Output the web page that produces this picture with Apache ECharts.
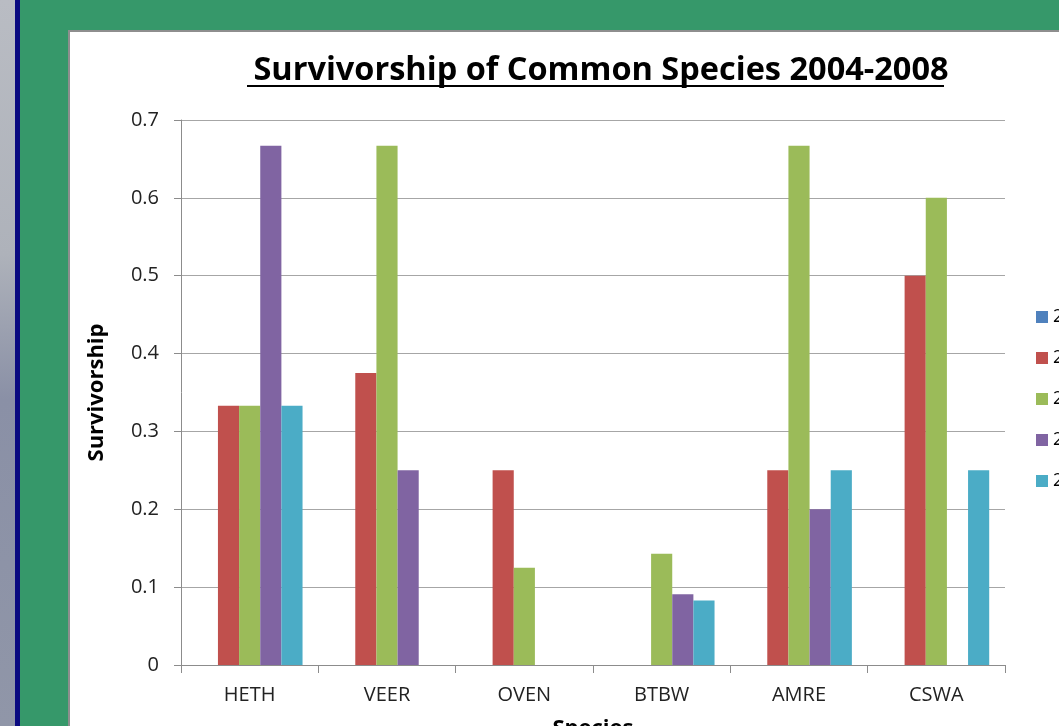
<!DOCTYPE html>
<html>
<head>
<meta charset="utf-8">
<script src="https://cdn.jsdelivr.net/npm/echarts@6/dist/echarts.min.js"></script>
<style>
html,body{margin:0;padding:0;width:1059px;height:726px;overflow:hidden;}
body{background:#36986a;position:relative;}
#strip{position:absolute;left:0;top:0;width:15px;height:726px;background:linear-gradient(#b9bcc3 0%,#aeb2ba 35%,#8a90a6 55%,#9096a8 100%);}
#navy{position:absolute;left:15px;top:0;width:5px;height:726px;background:#0a0a80;}
#paper{position:absolute;left:68px;top:30px;width:991px;height:696px;background:#fff;border-left:2px solid #8e8e8e;border-top:2px solid #8e8e8e;box-sizing:border-box;}
#chart{position:absolute;left:0;top:0;width:1059px;height:726px;}
</style>
</head>
<body>
<div id="strip"></div><div id="navy"></div><div id="paper"></div>
<div id="chart"></div>
<script>
const categories = ['HETH', 'VEER', 'OVEN', 'BTBW', 'AMRE', 'CSWA'];
const seriesNames = ['2004', '2005', '2006', '2007', '2008'];
const s2004 = [0, 0, 0, 0, 0, 0];
const s2005 = [0.333, 0.375, 0.25, 0, 0.25, 0.5];
const s2006 = [0.333, 0.667, 0.125, 0.143, 0.667, 0.6];
const s2007 = [0.667, 0.25, 0, 0.091, 0.2, 0];
const s2008 = [0.333, 0, 0, 0.083, 0.25, 0.25];
const yTicks = [0, 0.1, 0.2, 0.3, 0.4, 0.5, 0.6, 0.7];
const colors = ['#4F81BD', '#C0504D', '#9BBB59', '#8064A2', '#4BACC6'];
const allData = [s2004, s2005, s2006, s2007, s2008];

const chart = echarts.init(document.getElementById('chart'));
const font = 'Open Sans, Noto Sans, sans-serif';
chart.setOption({
  backgroundColor: 'transparent',
  animation: false,
  color: colors,
  title: {
    text: 'Survivorship of Common Species 2004-2008',
    left: 596, top: 49, textAlign: 'center',
    textStyle: { fontFamily: font, fontWeight: 'bold', fontSize: 32.5, color: '#000' }
  },
  graphic: [{
    type: 'line', shape: { x1: 247, y1: 86, x2: 944, y2: 86 },
    style: { stroke: '#000', lineWidth: 2 }
  }],
  legend: {
    orient: 'vertical', left: 1031, top: 303,
    itemWidth: 12, itemHeight: 12, itemGap: 23, icon: 'rect',
    textStyle: { fontFamily: font, fontSize: 18, lineHeight: 16, color: '#000', padding: [0,0,0,0] },
    data: seriesNames
  },
  grid: { left: 181, right: 54, top: 120, bottom: 61, containLabel: false, outerBoundsMode: 'none' },
  xAxis: {
    type: 'category', data: categories,
    name: 'Species', nameLocation: 'middle', nameGap: 53,
    nameTextStyle: { fontFamily: font, fontWeight: 'bold', fontSize: 22, color: '#000' },
    axisLine: { lineStyle: { color: '#8c8c8c', width: 1 } },
    axisTick: { show: true, alignWithLabel: false, length: 8, lineStyle: { color: '#8c8c8c' } },
    axisLabel: { fontFamily: font, fontSize: 20, color: '#222', margin: 20 },
    splitLine: { show: false }
  },
  yAxis: {
    type: 'value', min: 0, max: 0.7, interval: 0.1,
    name: 'Survivorship', nameLocation: 'middle', nameGap: 73, nameRotate: 90,
    nameTextStyle: { fontFamily: font, fontWeight: 'bold', fontSize: 22, color: '#000' },
    axisLine: { show: true, lineStyle: { color: '#8c8c8c' } },
    axisTick: { show: true, length: 7, lineStyle: { color: '#8c8c8c' } },
    axisLabel: {
      fontFamily: font, fontSize: 20, color: '#222', margin: 22,
      formatter: v => { const t = yTicks.find(x => Math.abs(x - v) < 1e-9); return String(t !== undefined ? t : v); }
    },
    splitLine: { show: true, lineStyle: { color: '#a6a6a6', width: 1 } }
  },
  series: seriesNames.map((n, i) => ({
    name: n, type: 'bar', data: allData[i],
    barGap: '0%', barCategoryGap: '23%',
    itemStyle: { color: colors[i] }
  }))
});
</script>
</body>
</html>
